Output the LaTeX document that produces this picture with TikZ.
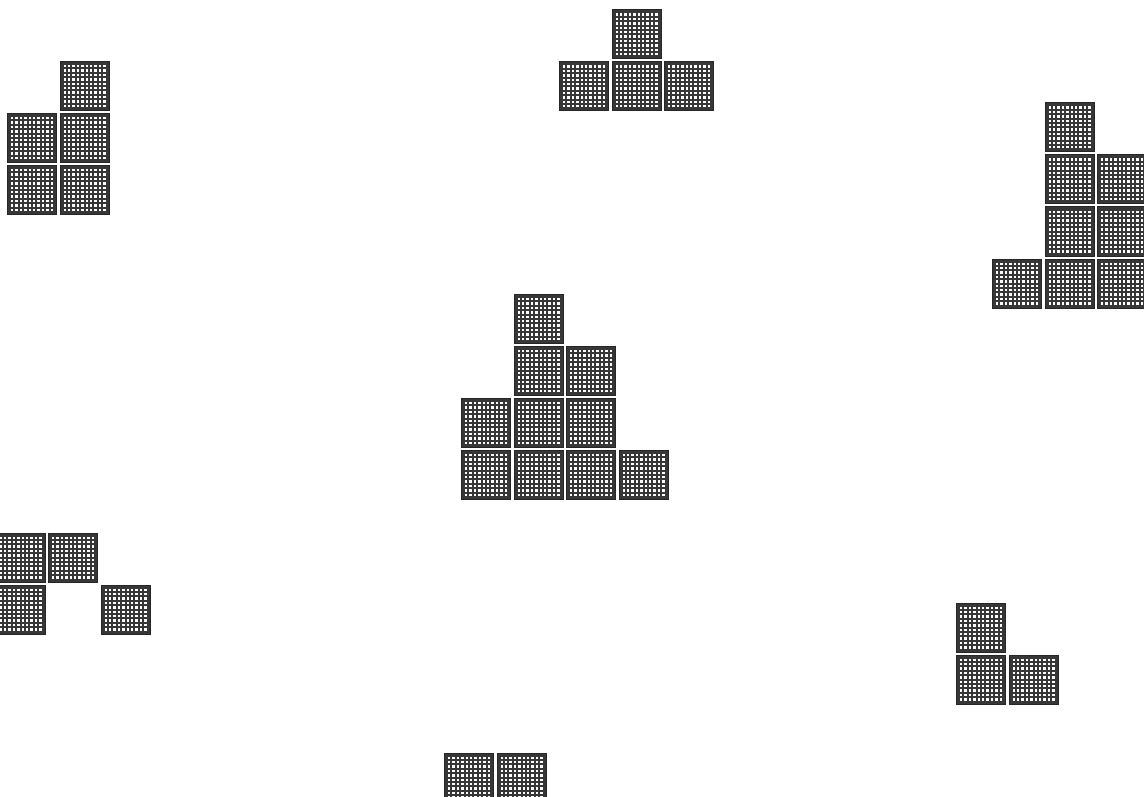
\documentclass[tikz,border=0pt]{standalone}
\usepackage{tikz}
\usepackage{xcolor}
\usetikzlibrary{positioning}

\definecolor{tilegray}{RGB}{55,55,55}

\tikzset{
  tile/.style={
    rectangle, minimum size=49pt, inner sep=0pt, outer sep=0pt,
    fill=tilegray, draw=black!85, line width=1pt,
    path picture={
      \foreach \i in {0,...,9}
        \foreach \j in {0,...,9}
          \fill[white] ([shift={(3.5pt+\i*4.4pt,3.5pt+\j*4.4pt)}]path picture bounding box.south west)
            rectangle ++(2.4pt,2.4pt);
    }
  }
}

\begin{document}
\begin{tikzpicture}[x=1pt, y=-1pt, node distance=3pt and 3.5pt]
  \useasboundingbox (0,0) rectangle (1144,797);

  % top left
  \node[tile] (a1) at (32,190) {};
  \node[tile, right=of a1] (a2) {};
  \node[tile, above=of a1] (a3) {};
  \node[tile, above=of a2] (a4) {};
  \node[tile, above=of a4] (a5) {};

  % top
  \node[tile] (b1) at (584,86.5) {};
  \node[tile, right=of b1] (b2) {};
  \node[tile, right=of b2] (b3) {};
  \node[tile, above=of b2] (b4) {};

  % centre
  \node[tile] (c1) at (486,475) {};
  \node[tile, right=of c1] (c2) {};
  \node[tile, right=of c2] (c3) {};
  \node[tile, right=of c3] (c4) {};
  \node[tile, above=of c1] (c5) {};
  \node[tile, above=of c2] (c6) {};
  \node[tile, above=of c3] (c7) {};
  \node[tile, above=of c6] (c8) {};
  \node[tile, above=of c7] (c9) {};
  \node[tile, above=of c8] (c10) {};

  % right
  \node[tile] (d1) at (1017,283.5) {};
  \node[tile, right=of d1] (d2) {};
  \node[tile, right=of d2] (d3) {};
  \node[tile, above=of d2] (d4) {};
  \node[tile, above=of d3] (d5) {};
  \node[tile, above=of d4] (d6) {};
  \node[tile, above=of d5] (d7) {};
  \node[tile, above=of d6] (d8) {};

  % bottom left
  \node[tile] (e1) at (20.5,557.5) {};
  \node[tile, right=of e1] (e2) {};
  \node[tile, below=of e1] (e3) {};
  \node[tile, below right=of e2] (e4) {};

  % bottom right
  \node[tile] (f1) at (981,627.5) {};
  \node[tile, below=of f1] (f2) {};
  \node[tile, right=of f2] (f3) {};

  % bottom
  \node[tile] (g1) at (469,777.5) {};
  \node[tile, right=of g1] (g2) {};
\end{tikzpicture}
\end{document}
